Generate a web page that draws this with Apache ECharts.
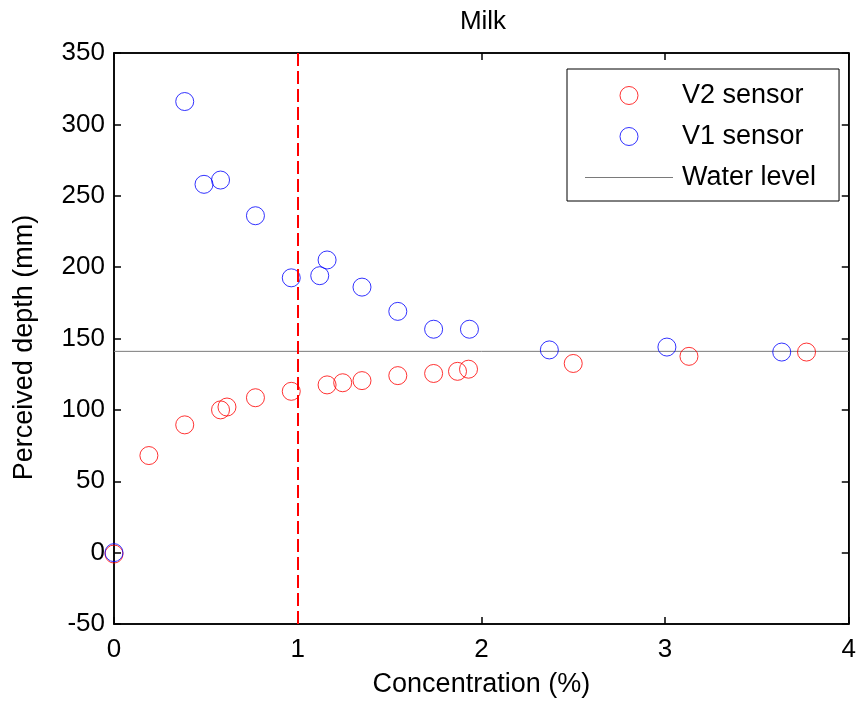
<!DOCTYPE html>
<html>
<head>
<meta charset="utf-8">
<script src="https://cdn.jsdelivr.net/npm/echarts@6/dist/echarts.min.js"></script>
<style>
  html, body { margin: 0; padding: 0; background: #fff; }
  #chart { width: 859px; height: 705px; }
</style>
</head>
<body>
<div id="chart"></div>
<script>
// Concentration (%) and perceived depth (mm) for each sensor
const v2Conc  = [0, 0.19, 0.385, 0.58, 0.615, 0.77, 0.965, 1.16, 1.245, 1.35, 1.545, 1.74, 1.87, 1.93, 2.5, 3.13, 3.77];
const v2Depth = [-1, 68, 89.5, 100, 102, 108.5, 113, 117.5, 119, 120.5, 124, 125.5, 127, 128.5, 132.5, 137.5, 140.5];
const v1Conc  = [0, 0.385, 0.49, 0.58, 0.77, 0.965, 1.12, 1.16, 1.35, 1.545, 1.74, 1.935, 2.37, 3.01, 3.635];
const v1Depth = [0, 316, 258, 261, 236, 192.5, 194, 205, 186, 169, 156.5, 156.5, 142, 144, 140.5];
const waterLevel = 141;
const thresholdConc = 1;
const xTicks = [0, 1, 2, 3, 4];
const yTicks = [-50, 0, 50, 100, 150, 200, 250, 300, 350];

const FONT = '"Liberation Sans", Arial, Helvetica, sans-serif';
const RED = '#ff0000';
const BLUE = '#0000ff';
const GREY = '#7a7a7a';

const pairs = (xs, ys) => xs.map((x, i) => [x, ys[i]]);

const chart = echarts.init(document.getElementById('chart'), null, { renderer: 'canvas' });

const tickCommon = {
  axisTick: { show: true, inside: true, length: 7, lineStyle: { color: '#000', width: 1.5 } },
  splitLine: { show: false }
};
const axisLineStyle = { show: true, onZero: false, lineStyle: { color: '#000', width: 1.5 } };
const hollow = (c) => ({ color: 'rgba(0,0,0,0)', borderColor: c, borderWidth: 1 });

chart.setOption({
  animation: false,
  backgroundColor: '#fff',
  title: {
    text: 'Milk',
    left: 478, top: 4, textAlign: 'center',
    textStyle: { fontFamily: FONT, fontSize: 26, fontWeight: 'normal', color: '#000' }
  },
  grid: {
    left: 114, right: 7, top: 53, bottom: 81,
    show: true, borderColor: '#000', borderWidth: 1.5, backgroundColor: '#fff'
  },
  legend: {
    left: 567, top: 69,
    orient: 'vertical',
    itemWidth: 88, itemHeight: 18, itemGap: 14,
    padding: [13, 23, 10, 18],
    borderColor: '#000', borderWidth: 1, borderRadius: 0, backgroundColor: '#fff',
    textStyle: { fontFamily: FONT, fontSize: 27, color: '#000', padding: [3, 0, 0, 4] },
    data: [
      { name: 'V2 sensor', icon: 'circle', itemStyle: hollow(RED) },
      { name: 'V1 sensor', icon: 'circle', itemStyle: hollow(BLUE) },
      { name: 'Water level', icon: 'path://M0,0H88V1H0Z', itemStyle: { color: GREY, borderWidth: 0 } }
    ]
  },
  xAxis: [{
    type: 'value', min: xTicks[0], max: xTicks[xTicks.length - 1], interval: 1,
    name: 'Concentration (%)', nameLocation: 'middle', nameGap: 47,
    nameTextStyle: { fontFamily: FONT, fontSize: 27, color: '#000' },
    axisLine: axisLineStyle,
    axisLabel: { fontFamily: FONT, fontSize: 26, color: '#000', margin: 13 },
    ...tickCommon
  }, {
    type: 'value', position: 'top', min: xTicks[0], max: xTicks[xTicks.length - 1], interval: 1,
    axisLine: axisLineStyle,
    axisLabel: { show: false },
    ...tickCommon
  }],
  yAxis: [{
    type: 'value', min: yTicks[0], max: yTicks[yTicks.length - 1], interval: 50,
    name: 'Perceived depth (mm)', nameLocation: 'middle', nameGap: 76,
    nameTextStyle: { fontFamily: FONT, fontSize: 27, color: '#000', padding: [0, 18, 0, 0] },
    axisLine: axisLineStyle,
    axisLabel: { fontFamily: FONT, fontSize: 26, color: '#000', margin: 9 },
    ...tickCommon
  }, {
    type: 'value', position: 'right', min: yTicks[0], max: yTicks[yTicks.length - 1], interval: 50,
    axisLine: axisLineStyle,
    axisLabel: { show: false },
    ...tickCommon
  }],
  series: [{
    name: 'Water level', type: 'line',
    symbol: 'none',
    lineStyle: { color: GREY, width: 1 },
    itemStyle: { color: GREY },
    data: [[xTicks[0], waterLevel], [xTicks[xTicks.length - 1], waterLevel]],
    z: 2
  }, {
    name: 'V2 sensor', type: 'scatter',
    symbol: 'circle', symbolSize: 18,
    itemStyle: hollow(RED),
    data: pairs(v2Conc, v2Depth),
    z: 3,
    markLine: {
      silent: true, symbol: 'none', label: { show: false },
      lineStyle: { color: RED, type: [13, 5], width: 2 },
      data: [{ xAxis: thresholdConc }]
    }
  }, {
    name: 'V1 sensor', type: 'scatter',
    symbol: 'circle', symbolSize: 18,
    itemStyle: hollow(BLUE),
    data: pairs(v1Conc, v1Depth),
    z: 4
  }]
});
</script>
</body>
</html>
